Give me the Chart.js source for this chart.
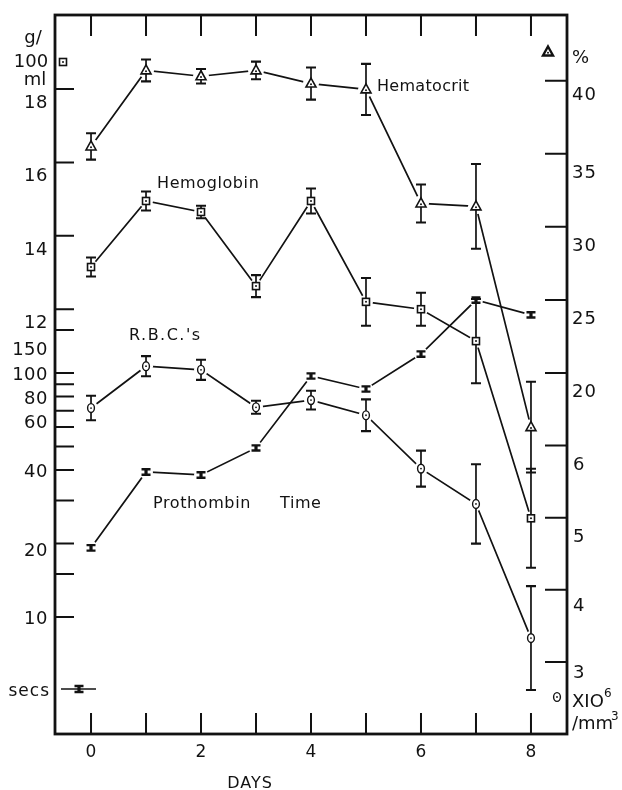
<!DOCTYPE html>
<html>
<head>
<meta charset="utf-8">
<script src="https://cdn.jsdelivr.net/npm/chart.js@4.4.1/dist/chart.umd.min.js"></script>
<style>
  html, body { margin: 0; padding: 0; background: #fff; }
  #wrap { width: 622px; height: 790px; }
</style>
</head>
<body>
<div id="wrap"><canvas id="chart" width="622" height="790"></canvas></div>
<script>
// Days after treatment
const days = [0, 1, 2, 3, 4, 5, 6, 7, 8];

// Hematocrit (%), right axis
const hematocrit = [35.5, 40.7, 40.3, 40.7, 39.8, 39.4, 31.6, 31.4, 16.3];
const hematocritErr = [0.9, 0.75, 0.5, 0.6, 1.1, 1.75, 1.3, 2.9, 3.1];

// Hemoglobin (g/100 ml), left axis
const hemoglobin = [13.15, 14.95, 14.65, 12.63, 14.95, 12.2, 12.0, 11.13, 6.3];
const hemoglobinErr = [0.26, 0.26, 0.17, 0.3, 0.34, 0.65, 0.45, 1.15, 1.35];

// R.B.C.'s (x10^6 / mm3), right axis
const rbc = [6.52, 7.1, 7.05, 6.53, 6.63, 6.42, 5.68, 5.19, 3.33];
const rbcErr = [0.17, 0.14, 0.14, 0.09, 0.13, 0.22, 0.25, 0.55, 0.72];

// Prothrombin time (secs), left log axis
const prothrombin = [19.2, 39.3, 38.2, 49.3, 97.2, 86.0, 119.6, 199, 173];
const prothrombinErr = [0.5, 1.0, 1.0, 1.2, 2.4, 2.1, 3.0, 5.0, 4.3];

// Tick marks and labels
const dayTicks = [0, 1, 2, 3, 4, 5, 6, 7, 8];
const dayLabels = [0, 2, 4, 6, 8];
const hbTicks = [12, 14, 16, 18];
const ptTicks = [10, 15, 20, 30, 40, 50, 60, 70, 80, 90, 100, 150];
const ptLabels = [10, 20, 40, 60, 80, 100, 150];
const hctTicks = [20, 25, 30, 35, 40];
const rbcTicks = [3, 4, 5, 6];

const FONT = '"DejaVu Sans", "Liberation Sans", sans-serif';
const INK = '#121212';

const seriesList = [
  { values: hematocrit, err: hematocritErr, axis: 'hct', marker: 'triangle', halo: 8 },
  { values: hemoglobin, err: hemoglobinErr, axis: 'hb', marker: 'square', halo: 7 },
  { values: rbc, err: rbcErr, axis: 'rbc', marker: 'circle', halo: 7 },
  { values: prothrombin, err: prothrombinErr, axis: 'pt', marker: 'ibar', halo: 7 }
];

function text(ctx, str, x, y, size, align, spacing) {
  ctx.save();
  ctx.font = size + 'px ' + FONT;
  ctx.fillStyle = INK;
  ctx.textAlign = align || 'left';
  ctx.textBaseline = 'alphabetic';
  if ('letterSpacing' in ctx) ctx.letterSpacing = (spacing || 0) + 'px';
  ctx.fillText(str, x, y);
  ctx.restore();
}

function drawMarker(ctx, type, x, y, top, bot, heavy) {
  ctx.save();
  ctx.strokeStyle = INK;
  ctx.fillStyle = '#fff';
  ctx.lineWidth = heavy ? 2.4 : 1.6;
  if (type === 'triangle') {
    ctx.beginPath();
    ctx.moveTo(x, y - 5.5);
    ctx.lineTo(x + 5, y + 3.5);
    ctx.lineTo(x - 5, y + 3.5);
    ctx.closePath();
    ctx.fill(); ctx.stroke();
    ctx.fillStyle = INK;
    ctx.beginPath(); ctx.arc(x, y + 0.8, 1, 0, Math.PI * 2); ctx.fill();
  } else if (type === 'square') {
    ctx.fillRect(x - 3.5, y - 3.5, 7, 7);
    ctx.strokeRect(x - 3.5, y - 3.5, 7, 7);
    ctx.fillStyle = INK;
    ctx.beginPath(); ctx.arc(x, y, 1, 0, Math.PI * 2); ctx.fill();
  } else if (type === 'circle') {
    ctx.lineWidth = 1.4;
    ctx.beginPath(); ctx.ellipse(x, y, 3.4, 4.4, 0, 0, Math.PI * 2);
    ctx.fill(); ctx.stroke();
    ctx.fillStyle = INK;
    ctx.beginPath(); ctx.arc(x, y, 0.9, 0, Math.PI * 2); ctx.fill();
  } else if (type === 'ibar') {
    const t = Math.min(top, y - 2.5), b = Math.max(bot, y + 2.5);
    ctx.fillStyle = INK;
    ctx.fillRect(x - 1.6, t, 3.2, b - t);
    ctx.lineWidth = 2.4;
    ctx.beginPath();
    ctx.moveTo(x - 4.5, t); ctx.lineTo(x + 4.5, t);
    ctx.moveTo(x - 4.5, b); ctx.lineTo(x + 4.5, b);
    ctx.stroke();
  }
  ctx.restore();
}

function drawErr(ctx, p) {
  if (p.sr.marker === 'ibar') return;
  ctx.save();
  ctx.strokeStyle = INK;
  ctx.lineWidth = 1.7;
  ctx.beginPath();
  ctx.moveTo(p.px, p.top); ctx.lineTo(p.px, p.bot);
  ctx.stroke();
  ctx.lineWidth = 2.1;
  ctx.beginPath();
  ctx.moveTo(p.px - 5, p.top); ctx.lineTo(p.px + 5, p.top);
  ctx.moveTo(p.px - 5, p.bot); ctx.lineTo(p.px + 5, p.bot);
  ctx.stroke();
  ctx.restore();
}

const overlay = {
  id: 'overlay',
  afterDatasetsDraw(chart) {
    const ctx = chart.ctx, xs = chart.scales.x;
    const pts = [];
    seriesList.forEach(sr => {
      const ys = chart.scales[sr.axis];
      sr.values.forEach((v, i) => {
        pts.push({
          sr,
          px: xs.getPixelForValue(days[i]),
          py: ys.getPixelForValue(v),
          top: ys.getPixelForValue(v + sr.err[i]),
          bot: ys.getPixelForValue(v - sr.err[i])
        });
      });
    });
    // white halo so the joining lines stop short of each marker
    ctx.save();
    ctx.fillStyle = '#fff';
    pts.forEach(p => { ctx.beginPath(); ctx.arc(p.px, p.py, p.sr.halo, 0, Math.PI * 2); ctx.fill(); });
    ctx.restore();
    pts.forEach(p => drawErr(ctx, p));
    pts.forEach(p => drawMarker(ctx, p.sr.marker, p.px, p.py, p.top, p.bot));
  },
  afterDraw(chart) {
    const ctx = chart.ctx, a = chart.chartArea, s = chart.scales;
    ctx.save();
    ctx.strokeStyle = INK;
    ctx.lineWidth = 2.8;
    ctx.strokeRect(a.left, a.top, a.right - a.left, a.bottom - a.top);

    // inward tick marks
    ctx.lineWidth = 2;
    ctx.beginPath();
    dayTicks.forEach(d => {
      const px = s.x.getPixelForValue(d);
      ctx.moveTo(px, a.top); ctx.lineTo(px, a.top + 21);
      ctx.moveTo(px, a.bottom); ctx.lineTo(px, a.bottom - 21);
    });
    hbTicks.forEach(v => { const py = s.hb.getPixelForValue(v); ctx.moveTo(a.left, py); ctx.lineTo(a.left + 19, py); });
    ptTicks.forEach(v => { const py = s.pt.getPixelForValue(v); ctx.moveTo(a.left, py); ctx.lineTo(a.left + 19, py); });
    hctTicks.forEach(v => { const py = s.hct.getPixelForValue(v); ctx.moveTo(a.right, py); ctx.lineTo(a.right - 22, py); });
    rbcTicks.forEach(v => { const py = s.rbc.getPixelForValue(v); ctx.moveTo(a.right, py); ctx.lineTo(a.right - 22, py); });
    ctx.stroke();
    ctx.restore();

    // tick labels (sit a little below their ticks, as in the original)
    const ptNudge = { 150: 25, 60: 1, 20: 12 };
    const rightNudge = { 40: 19, 4: 21, 3: 16 };
    hbTicks.forEach(v => text(ctx, String(v), a.left - 7, s.hb.getPixelForValue(v) + 19, 18, 'right', 0.5));
    ptLabels.forEach(v => text(ctx, String(v), a.left - 7, s.pt.getPixelForValue(v) + (v in ptNudge ? ptNudge[v] : 7), 18, 'right', 0.5));
    hctTicks.forEach(v => text(ctx, String(v), a.right + 5, s.hct.getPixelForValue(v) + (v in rightNudge ? rightNudge[v] : 24), 18, 'left', 1));
    rbcTicks.forEach(v => text(ctx, String(v), a.right + 6, s.rbc.getPixelForValue(v) + (v in rightNudge ? rightNudge[v] : 24), 18, 'left', 1));
    dayLabels.forEach(d => text(ctx, String(d), s.x.getPixelForValue(d), a.bottom + 23, 17, 'center'));
    text(ctx, 'DAYS', 250, 788, 16, 'center', 1);

    // units
    text(ctx, 'g/', 33, 43, 18, 'center');
    text(ctx, '100', 31, 67, 18, 'center');
    text(ctx, 'ml', 35, 85, 18, 'center');
    text(ctx, '%', 572, 63, 18, 'left');
    text(ctx, 'XIO', 572, 707, 18, 'left');
    text(ctx, '6', 604, 697, 12, 'left');
    text(ctx, '/mm', 572, 729, 18, 'left');
    text(ctx, '3', 611, 720, 12, 'left');
    text(ctx, 'secs', 50, 696, 17, 'right', 1);

    // series names
    text(ctx, 'Hematocrit', 377, 91, 16, 'left', 0.3);
    text(ctx, 'Hemoglobin', 157, 188, 16, 'left', 0.6);
    text(ctx, "R.B.C.'s", 129, 340, 16, 'left', 1.5);
    text(ctx, 'Prothombin', 153, 508, 16, 'left', 0.6);
    text(ctx, 'Time', 280, 508, 16, 'left', 0.6);

    // axis key symbols
    drawMarker(ctx, 'square', a.left + 8, a.top + 47, 0, 0);
    drawMarker(ctx, 'triangle', a.right - 19, a.top + 37, 0, 0, true);
    drawMarker(ctx, 'circle', a.right - 10, a.bottom - 37, 0, 0);
    const sy = a.bottom - 45;
    ctx.save();
    ctx.strokeStyle = INK; ctx.lineWidth = 1.6;
    ctx.beginPath(); ctx.moveTo(a.left + 6, sy); ctx.lineTo(a.left + 41, sy); ctx.stroke();
    ctx.restore();
    drawMarker(ctx, 'ibar', a.left + 24, sy, sy - 3, sy + 3);
  }
};

function lineSet(label, values, axis) {
  return {
    label,
    data: days.map((d, i) => ({ x: d, y: values[i] })),
    yAxisID: axis,
    xAxisID: 'x',
    borderColor: INK,
    borderWidth: 1.7,
    pointRadius: 0,
    tension: 0,
    fill: false
  };
}

new Chart(document.getElementById('chart'), {
  type: 'line',
  data: {
    datasets: [
      lineSet('Hematocrit', hematocrit, 'hct'),
      lineSet('Hemoglobin', hemoglobin, 'hb'),
      lineSet("R.B.C.'s", rbc, 'rbc'),
      lineSet('Prothombin Time', prothrombin, 'pt')
    ]
  },
  options: {
    responsive: false,
    animation: false,
    devicePixelRatio: 1,
    layout: { padding: { left: 55, right: 55, top: 15, bottom: 56 } },
    plugins: { legend: { display: false }, tooltip: { enabled: false }, title: { display: false } },
    scales: {
      x: { type: 'linear', min: -0.655, max: 8.655, display: false },
      hb: { type: 'linear', position: 'left', min: 0.42, max: 20.02, display: false },
      pt: { type: 'logarithmic', position: 'left', min: 3.315, max: 2931, display: false },
      hct: { type: 'linear', position: 'right', min: -4.69, max: 44.49, display: false },
      rbc: { type: 'linear', position: 'right', min: 2.0, max: 11.97, display: false }
    }
  },
  plugins: [overlay]
});
</script>
</body>
</html>
